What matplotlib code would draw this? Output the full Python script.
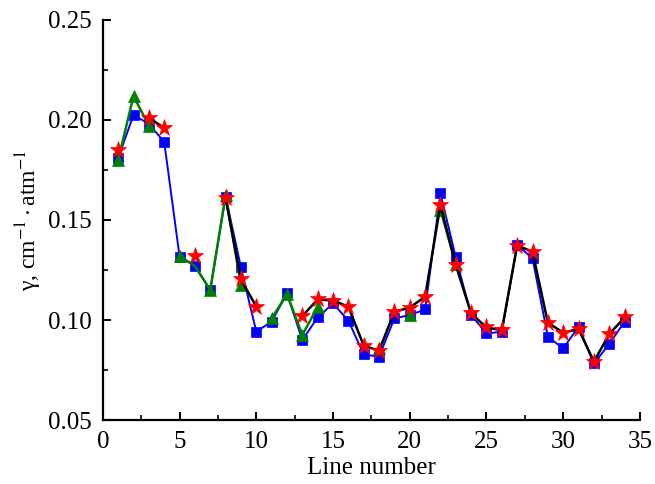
import numpy as np
import matplotlib.pyplot as plt
from matplotlib.ticker import MultipleLocator

nan = np.nan
lines = np.arange(1, 35)

gamma_blue = [0.181, 0.2025, 0.198, 0.189, 0.1317, 0.127, 0.115, 0.1617, 0.1263, 0.0942,
              0.0992, 0.1133, 0.090, 0.1013, 0.1083, 0.0997, 0.0828, 0.0817, 0.1008, 0.1025,
              0.1053, 0.1633, 0.1313, 0.1025, 0.0933, 0.0942, 0.1375, 0.1308, 0.0917, 0.0858,
              0.0967, 0.0783, 0.088, 0.0992]

gamma_green = [0.180, 0.212, 0.197, nan, 0.132, 0.127, 0.115, 0.1625, 0.1175, nan,
               0.1008, 0.113, 0.0925, 0.1067, nan, nan, nan, 0.0858, nan, 0.1025,
               nan, 0.155, 0.128, nan, nan, nan, nan, nan, nan, nan,
               nan, nan, nan, nan]
# line 6 of the green set has no marker in the original
green_has_marker = [n != 6 for n in lines]

gamma_red = [0.185, nan, 0.201, 0.196, nan, 0.132, nan, 0.1608, 0.1203, 0.1067,
             nan, nan, 0.102, 0.1103, 0.1097, 0.1067, 0.0872, 0.0847, 0.1042, 0.1062,
             0.1117, 0.1575, 0.1275, 0.1033, 0.0963, 0.095, 0.1372, 0.1342, 0.0987, 0.0937,
             0.0955, 0.0792, 0.093, 0.1013]

plt.rcParams['font.family'] = ['Liberation Serif', 'DejaVu Serif']
plt.rcParams['mathtext.fontset'] = 'stix'

fig = plt.figure(figsize=(6.55, 4.84), dpi=100)
ax = fig.add_axes([0.157, 0.132, 0.820, 0.827])

ax.plot(lines, gamma_blue, color='#0000ff', lw=1.4, marker='s', ms=7,
        mec='#0000ff', mew=0.5, zorder=2)
ax.plot(lines, gamma_green, color='#008000', lw=1.8, marker='^', ms=9,
        mec='#008000', mew=0.5, markevery=green_has_marker, zorder=3)
ax.plot(lines, gamma_red, color='black', lw=1.8, marker='*', ms=12.5,
        mfc='#ff0000', mec='#ff0000', mew=0.5, zorder=4)

ax.set_xlim(0, 35)
ax.set_ylim(0.05, 0.25)
ax.xaxis.set_major_locator(MultipleLocator(5))
ax.xaxis.set_minor_locator(MultipleLocator(2.5))
ax.yaxis.set_major_locator(MultipleLocator(0.05))
ax.yaxis.set_minor_locator(MultipleLocator(0.025))
ax.yaxis.set_major_formatter(plt.FormatStrFormatter('%.2f'))

for side in ['top', 'right']:
    ax.spines[side].set_visible(False)
for side in ['left', 'bottom']:
    ax.spines[side].set_linewidth(1.6)

ax.tick_params(which='major', direction='in', length=6, width=1.4, labelsize=18)
ax.tick_params(which='minor', direction='in', length=3.5, width=1.2)
ax.tick_params(axis='y', pad=8)
ax.tick_params(axis='x', pad=8)

ax.set_xlabel('Line number', fontsize=18, labelpad=3)
ax.set_ylabel(r'γ, cm$^{-1}\cdot$atm$^{-1}$', fontsize=17, labelpad=3)

fig.savefig('out.png', dpi=100)
